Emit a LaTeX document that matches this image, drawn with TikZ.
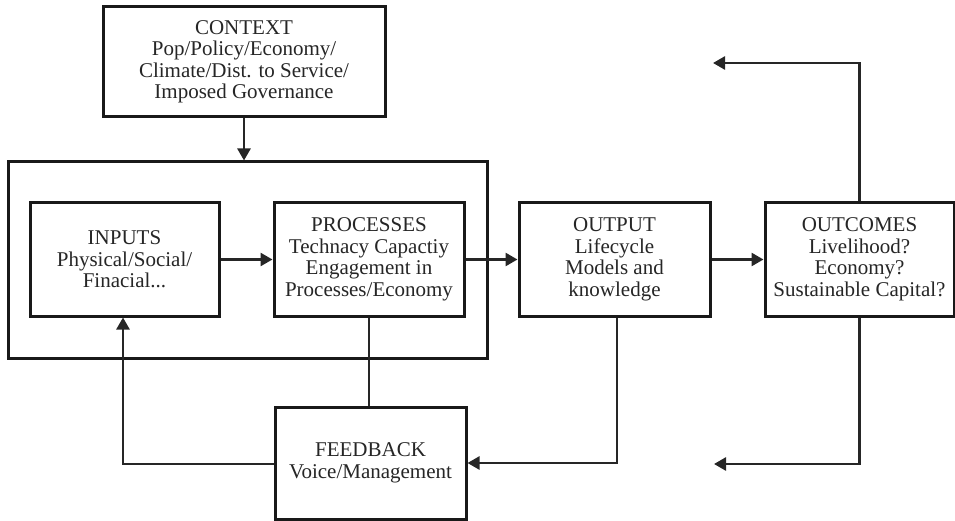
\documentclass[tikz,border=0pt]{standalone}
\usepackage{fontspec}
\setmainfont{Liberation Serif}
\usetikzlibrary{arrows.meta}
\begin{document}
\begin{tikzpicture}[x=1pt,y=-1pt,
  box/.style={draw=black!90, line width=3pt, fill=white, align=center, inner sep=0pt,
    font=\fontsize{21}{21.5}\selectfont, text=black!85},
  arr/.style={draw=black!85, line width=2.6pt, -{Triangle[length=12pt,width=13pt]}},
  thinconn/.style={draw=black!85, line width=1.8pt}]
\useasboundingbox (0,0) rectangle (955,521);
\node[box, minimum width=282pt, minimum height=110pt] (ctx) at (244,62)
  {CONTEXT\\Pop/Policy/Economy/\\Climate/Dist. to Service/\\Imposed Governance};
\node[draw=black!90, line width=3pt, minimum width=479pt, minimum height=196pt, inner sep=0pt] (outer) at (247.5,260) {};
\node[box, minimum width=189pt, minimum height=113pt] (in) at (124.5,259.5)
  {INPUTS\\Physical/Social/\\Finacial...};
\node[box, minimum width=190pt, minimum height=113pt] (pr) at (369,259.5)
  {PROCESSES\\Technacy Capactiy\\Engagement in\\Processes/Economy};
\node[box, minimum width=191pt, minimum height=113pt] (out) at (614.5,259.5)
  {OUTPUT\\Lifecycle\\Models and\\knowledge};
\node[box, minimum width=189pt, minimum height=113pt] (oc) at (859.5,259.5)
  {OUTCOMES\\Livelihood?\\Economy?\\Sustainable Capital?};
\node[box, minimum width=191pt, minimum height=112pt] (fb) at (370.5,463)
  {FEEDBACK\\Voice/Management};
\coordinate (topend) at (713,63);
\coordinate (botend) at (714,464);
\draw[arr] (ctx.south) -- (ctx.south |- outer.north);
\draw[arr] (in.east) -- (pr.west);
\draw[arr] (pr.east) -- (out.west);
\draw[arr] (out.east) -- (oc.west);
\draw[arr] (oc.north) |- (topend);
\draw[arr] (oc.south) |- (botend);
\draw[arr] ([xshift=2.5pt]out.south) |- (fb.east);
\draw[thinconn] (pr.south) -- (pr.south |- fb.north);
\draw[arr] (fb.west |- botend) -| ([xshift=-1.5pt]in.south);
\end{tikzpicture}
\end{document}
